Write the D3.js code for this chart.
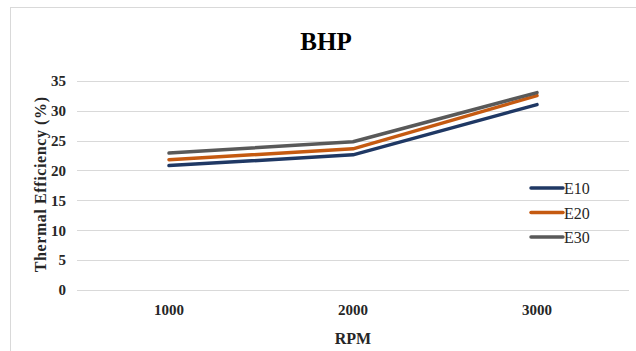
<!DOCTYPE html>
<html>
<head>
<meta charset="utf-8">
<script src="https://cdn.jsdelivr.net/npm/d3@7"></script>
<style>
  html, body { margin: 0; padding: 0; background: #fff; }
  svg { display: block; }
  svg text { font-family: "Liberation Serif", "Times New Roman", serif; }
</style>
</head>
<body>
<svg id="chart" width="636" height="351"></svg>
<script>
// RPM categories and thermal efficiency (%) per blend
const rpm = ["1000", "2000", "3000"];
const e10 = [20.8, 22.6, 31.0];
const e20 = [21.8, 23.6, 32.5];
const e30 = [22.9, 24.8, 33.0];
const seriesNames = ["E10", "E20", "E30"];
const seriesColors = ["#1f3864", "#c55a11", "#595959"];
const yTicks = [0, 5, 10, 15, 20, 25, 30, 35];

const series = [e10, e20, e30].map((vals, i) => ({
  name: seriesNames[i],
  color: seriesColors[i],
  values: vals.map((v, j) => ({ x: rpm[j], y: v }))
}));

const svg = d3.select("#chart");
const W = 636, H = 351;
const plot = { left: 77, right: 629, top: 80.7, bottom: 290 };
const serif = "'Liberation Serif', 'Times New Roman', serif";

// chart frame
svg.append("rect")
  .attr("x", 10.5).attr("y", 7.5)
  .attr("width", W + 10).attr("height", H + 10)
  .attr("fill", "#fff").attr("stroke", "#d9d9d9").attr("stroke-width", 1);

const x = d3.scaleBand().domain(rpm).range([plot.left, plot.right]);
const y = d3.scaleLinear().domain([0, 35]).range([plot.bottom, plot.top]);

// horizontal gridlines
svg.append("g").selectAll("line").data(yTicks).join("line")
  .attr("x1", plot.left).attr("x2", plot.right)
  .attr("y1", d => Math.round(y(d)) + 0.5).attr("y2", d => Math.round(y(d)) + 0.5)
  .attr("stroke", "#d9d9d9").attr("stroke-width", 1);

// y axis tick labels
const yAxis = d3.axisLeft(y).tickValues(yTicks).tickSize(0).tickPadding(0);
const gy = svg.append("g").attr("transform", `translate(${plot.left - 11},0)`).call(yAxis);
gy.attr("font-family", null).attr("font-size", null);
gy.select(".domain").remove();
gy.selectAll("text")
  .style("font-family", serif).style("font-weight", "bold").style("font-size", "15px")
  .attr("fill", "#262626");

// x axis tick labels
const xAxis = d3.axisBottom(x).tickSize(0).tickPadding(0);
const gx = svg.append("g").attr("transform", `translate(0,${plot.bottom + 14})`).call(xAxis);
gx.attr("font-family", null).attr("font-size", null);
gx.select(".domain").remove();
gx.selectAll("text")
  .style("font-family", serif).style("font-weight", "bold").style("font-size", "15px")
  .attr("fill", "#262626");

// lines
const line = d3.line()
  .x(d => x(d.x) + x.bandwidth() / 2)
  .y(d => y(d.y));

svg.append("g").selectAll("path").data(series).join("path")
  .attr("d", d => line(d.values))
  .attr("fill", "none")
  .attr("stroke", d => d.color)
  .attr("stroke-width", 3.5)
  .attr("stroke-linejoin", "round")
  .attr("stroke-linecap", "round");

// title
svg.append("text")
  .attr("x", 326).attr("y", 50)
  .attr("text-anchor", "middle")
  .style("font-family", serif).style("font-weight", "bold").style("font-size", "25px")
  .attr("fill", "#000")
  .text("BHP");

// axis titles
svg.append("text")
  .attr("transform", `translate(46,${(plot.top + plot.bottom) / 2 - 1}) rotate(-90)`)
  .attr("text-anchor", "middle")
  .style("font-family", serif).style("font-weight", "bold").style("font-size", "16px")
  .style("letter-spacing", "0.6px")
  .attr("fill", "#262626")
  .text("Thermal Efficiency (%)");

svg.append("text")
  .attr("x", 353).attr("y", 344)
  .attr("text-anchor", "middle")
  .style("font-family", serif).style("font-weight", "bold").style("font-size", "16px")
  .attr("fill", "#262626")
  .text("RPM");

// legend
const legend = svg.append("g").attr("transform", "translate(530,188)");
const item = legend.selectAll("g").data(series).join("g")
  .attr("transform", (d, i) => `translate(0,${i * 24.5})`);
item.append("line")
  .attr("x1", 1).attr("x2", 33).attr("y1", 0).attr("y2", 0)
  .attr("stroke", d => d.color).attr("stroke-width", 3.5)
  .attr("stroke-linecap", "round");
item.append("text")
  .attr("x", 34).attr("y", 6)
  .style("font-family", serif).style("font-size", "16px")
  .attr("fill", "#262626")
  .text(d => d.name);
</script>
</body>
</html>
